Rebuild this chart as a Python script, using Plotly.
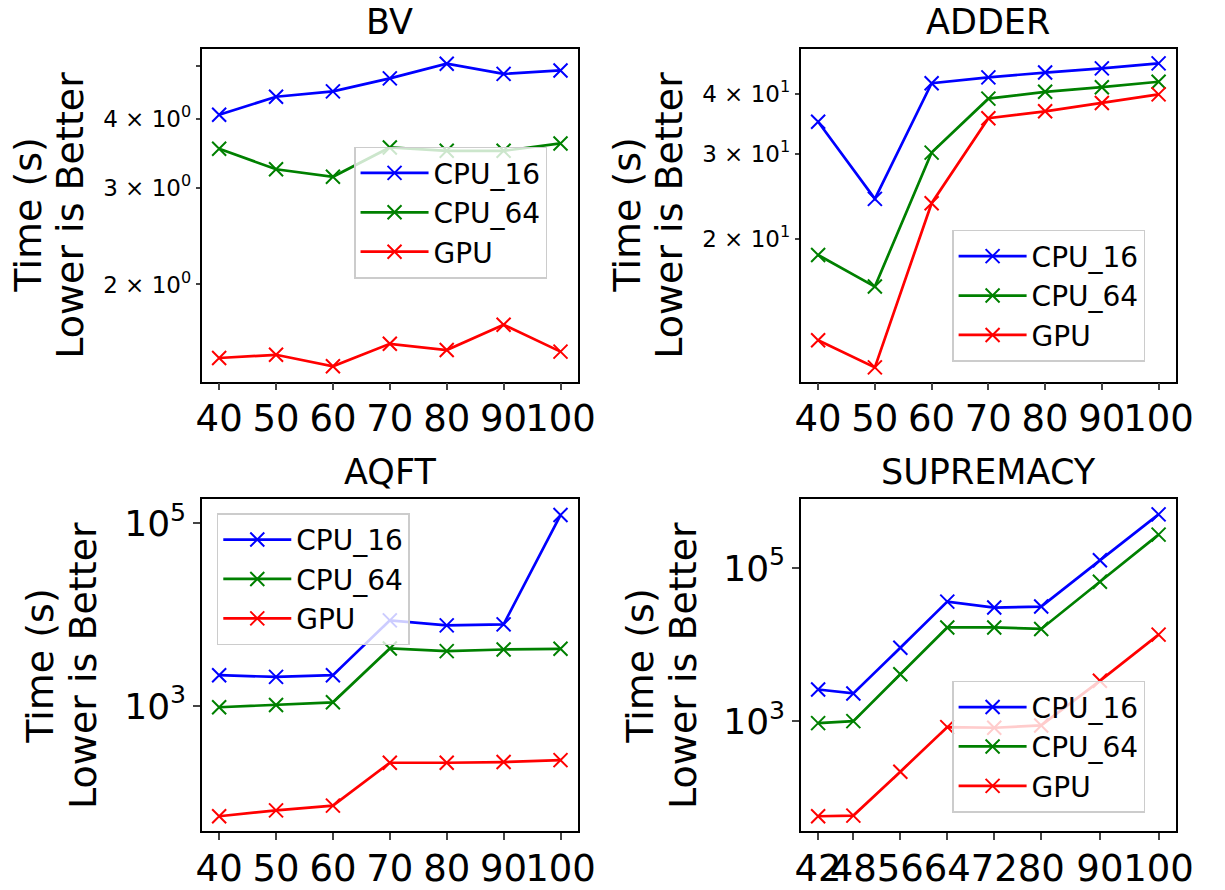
import plotly.graph_objects as go

# ---------------- data ----------------
x_main = [40, 50, 60, 70, 80, 90, 100]
x_sup = [42, 48, 56, 64, 72, 80, 90, 100]

bv_cpu16 = [4.07, 4.39, 4.49, 4.74, 5.04, 4.83, 4.90]
bv_cpu64 = [3.53, 3.24, 3.14, 3.55, 3.50, 3.50, 3.61]
bv_gpu = [1.47, 1.49, 1.42, 1.56, 1.52, 1.69, 1.51]

adder_cpu16 = [35.0, 24.2, 42.1, 43.3, 44.3, 45.2, 46.3]
adder_cpu64 = [18.5, 15.9, 30.2, 39.1, 40.4, 41.3, 42.4]
adder_gpu = [12.3, 10.8, 23.7, 35.6, 36.8, 38.3, 39.9]

aqft_cpu16 = [2170, 2080, 2170, 8650, 7620, 7820, 123000]
aqft_cpu64 = [968, 1025, 1096, 4260, 3980, 4150, 4225]
aqft_gpu = [62, 72, 81, 239, 239, 243, 255]

sup_cpu16 = [2590, 2300, 9060, 36300, 30400, 31300, 125600, 499000]
sup_cpu64 = [942, 1000, 4090, 16700, 16700, 15960, 65900, 272000]
sup_gpu = [57.4, 58.5, 219, 836, 820, 879, 3360, 13460]

series_names = ["CPU_16", "CPU_64", "GPU"]
series_colors = ["#0000ff", "#008000", "#ff0000"]
titles = ["BV", "ADDER", "AQFT", "SUPREMACY"]

bv_ticks = [2, 3, 4, 5]
bv_ticktext = ["2 × 10<sup>0</sup>", "3 × 10<sup>0</sup>", "4 × 10<sup>0</sup>", ""]
adder_ticks = [20, 30, 40]
adder_ticktext = ["2 × 10<sup>1</sup>", "3 × 10<sup>1</sup>", "4 × 10<sup>1</sup>"]
big_ticks = [1e3, 1e5]
big_ticktext = ["10<sup>3</sup>", "10<sup>5</sup>"]

FONT = "DejaVu Sans"
W, H = 1225, 890

panels = [
    dict(x=x_main, ys=[bv_cpu16, bv_cpu64, bv_gpu], px=(200, 583), py=(47, 383),
         yr=[0.1245, 0.730], yt=bv_ticks, ytt=bv_ticktext, ytf=23,
         xr=[37, 103], xt=x_main, leg=(355, 146), ylab=(22, 65)),
    dict(x=x_main, ys=[adder_cpu16, adder_cpu64, adder_gpu], px=(811, 1193), py=(47, 383),
         yr=[1.0039, 1.6963], yt=adder_ticks, ytt=adder_ticktext, ytf=23,
         xr=[37, 103], xt=x_main, leg=(965, 230), ylab=(633, 676)),
    dict(x=x_main, ys=[aqft_cpu16, aqft_cpu64, aqft_gpu], px=(200, 583), py=(502, 837),
         yr=[1.626, 5.260], yt=big_ticks, ytt=big_ticktext, ytf=36,
         xr=[37, 103], xt=x_main, leg=(215, 516), ylab=(35, 79)),
    dict(x=x_sup, ys=[sup_cpu16, sup_cpu64, sup_gpu], px=(811, 1193), py=(502, 837),
         yr=[1.560, 5.893], yt=big_ticks, ytt=big_ticktext, ytf=36,
         xr=[39.1, 102.9], xt=x_sup, leg=(965, 685), ylab=(647, 691)),
]

fig = go.Figure()
layout = dict(
    width=W, height=H, margin=dict(l=0, r=0, t=0, b=0),
    paper_bgcolor="white", plot_bgcolor="white",
    font=dict(family=FONT, color="black"),
    annotations=[],
)

for i, p in enumerate(panels):
    k = "" if i == 0 else str(i + 1)
    legname = "legend" if i == 0 else f"legend{i + 1}"
    for name, col, y in zip(series_names, series_colors, p["ys"]):
        fig.add_trace(go.Scatter(
            x=p["x"], y=y, name=name, mode="lines+markers",
            line=dict(color=col, width=2.7),
            marker=dict(symbol="x-thin", size=14, line=dict(color=col, width=2)),
            xaxis="x" + k, yaxis="y" + k, legend=legname,
        ))
    layout["xaxis" + k] = dict(
        domain=[p["px"][0] / W, p["px"][1] / W], anchor="y" + k,
        range=p["xr"], tickmode="array", tickvals=p["xt"],
        ticktext=[str(v) for v in p["xt"]], tickangle=0,
        tickfont=dict(size=37, family=FONT), ticks="outside", ticklen=7, tickwidth=1.5,
        ticklabelstandoff=-4,
        showline=True, linecolor="black", linewidth=1.6, mirror=True,
        showgrid=False, zeroline=False,
    )
    layout["yaxis" + k] = dict(
        domain=[1 - p["py"][1] / H, 1 - p["py"][0] / H], anchor="x" + k,
        type="log", range=p["yr"], tickmode="array", tickvals=p["yt"], ticktext=p["ytt"],
        tickfont=dict(size=p["ytf"], family=FONT), ticks="outside",
        ticklen=7 if p["ytf"] == 36 else 4.5, tickwidth=1.5,
        showline=True, linecolor="black", linewidth=1.6, mirror=True,
        showgrid=False, zeroline=False,
    )
    layout[legname] = dict(
        x=p["leg"][0] / W, y=1 - p["leg"][1] / H, xanchor="left", yanchor="top",
        bgcolor="rgba(255,255,255,0.8)", bordercolor="#cccccc", borderwidth=1.5,
        font=dict(size=28, family=FONT, color="black"),
        tracegroupgap=4, itemwidth=68,
    )
    cx = (p["px"][0] + p["px"][1]) / 2 / W
    ty = (20 if i < 2 else 474)
    layout["annotations"].append(dict(
        text=titles[i], x=cx, y=1 - ty / H, xref="paper", yref="paper",
        xanchor="center", yanchor="middle", showarrow=False,
        font=dict(size=35, family=FONT, color="black"),
    ))
    cy = (p["py"][0] + p["py"][1]) / 2
    for txt, lx in zip(["Time (s)", "Lower is Better"], p["ylab"]):
        layout["annotations"].append(dict(
            text=txt, x=lx / W, y=1 - cy / H, xref="paper", yref="paper",
            xanchor="center", yanchor="middle", showarrow=False, textangle=-90,
            font=dict(size=38, family=FONT, color="black"),
        ))

fig.update_layout(**layout)
fig.write_html("out.html", config={"displayModeBar": False},
               post_script="document.body.style.margin='0px';")
